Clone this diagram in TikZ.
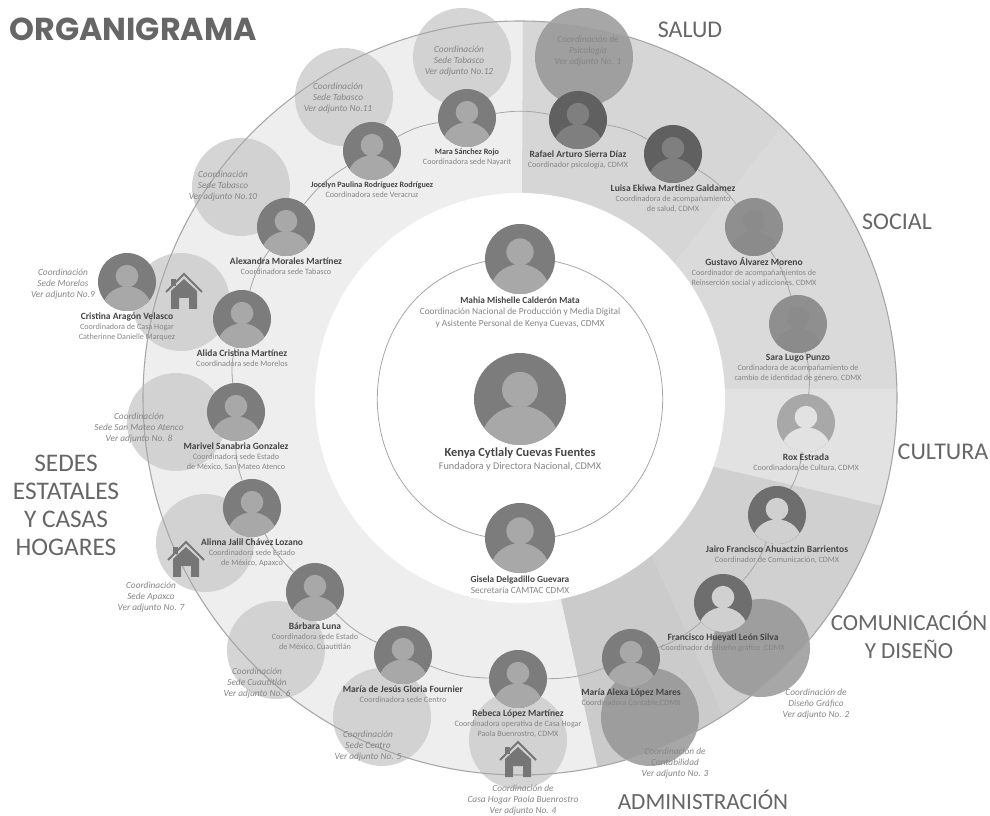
\documentclass[tikz,border=0pt]{standalone}
\usepackage{fontspec}
\setmainfont{Carlito}
\newfontfamily\titlefont{Poppins}
\usetikzlibrary{positioning}
\definecolor{ringgray}{HTML}{A6A6A6}
\definecolor{sedesfill}{HTML}{EEEEEE}
\definecolor{saludfill}{HTML}{D6D6D6}
\definecolor{socialfill}{HTML}{DADADA}
\definecolor{culturafill}{HTML}{E2E2E2}
\definecolor{comfill}{HTML}{D0D0D0}
\definecolor{adminfill}{HTML}{CBCBCB}
\definecolor{avatar}{HTML}{7C7C7C}
\definecolor{avatarlight}{HTML}{A8A8A8}
\definecolor{avatardark}{HTML}{606060}
\definecolor{avatarcom}{HTML}{6E6E6E}
\definecolor{avatarmid}{HTML}{7F7F7F}
\definecolor{avatarflat}{HTML}{8F8F8F}
\definecolor{avatarflatb}{HTML}{8B8B8B}
\definecolor{textgray}{HTML}{858585}
\definecolor{namegray}{HTML}{444444}
\definecolor{labelgray}{HTML}{666666}
\tikzset{
	areatitle/.style={font=\fontsize{#1}{21}\selectfont, text=labelgray, align=center, inner sep=0pt},
	areatitle/.default={18},
	staff/.style={font=\fontsize{6.1}{7.6}\selectfont, text=textgray, align=center, inner sep=0.6pt},
	staffmid/.style={staff, font=\fontsize{7}{8.6}\selectfont},
	staffbig/.style={staff, font=\fontsize{7.7}{10}\selectfont},
	coordtext/.style={font=\fontsize{7}{8.5}\selectfont\itshape, text=textgray, align=center, inner sep=0pt},
	coordcircle/.style={circle, inner sep=0pt, minimum size=73.5pt, fill=#1, opacity=0.82},
	coordcircle/.default={black!20},
	ringline/.style={draw=ringgray, line width=0.6pt},
	house/.pic={
		\draw[avatar!95!black, line width=1.5pt] (-18,0) -- (0,-18) -- (18,0);
		\fill[avatar!95!black] (-13,-13) rectangle (-8,-6);
		\fill[avatar!95!black] (0,-13) -- (13,-1) -- (13,17) -- (5,17) -- (5,6) -- (-5,6) -- (-5,17) -- (-13,17) -- (-13,-1) -- cycle;
	}
}
\newcommand{\nm}[1]{{\fontsize{7.15}{7.6}\selectfont\bfseries\color{namegray}#1}}
\newcommand{\nmsmall}[1]{{\bfseries\color{namegray}#1}}
\newcommand{\nmbig}[1]{{\fontsize{9.3}{10}\selectfont\bfseries\color{namegray}#1}}
\begin{document}
\begin{tikzpicture}[x=0.75pt, y=-0.75pt]
	\useasboundingbox (0,0) rectangle (990,816);
	\def\cx{520}
	\def\cy{398}
	% band and its areas
	\fill[sedesfill] (\cx,\cy) circle(377);
	\begin{scope}
		\clip (\cx,\cy) circle(377);
		\fill[saludfill] (521,398) -- (523,0) -- (882,0) -- (640,307) -- cycle;
		\fill[socialfill] (640,307) -- (882,0) -- (990,0) -- (990,389) -- (650,389) -- cycle;
		\fill[culturafill] (650,389) -- (990,389) -- (990,531) -- (650,452) -- cycle;
		\fill[comfill] (650,452) -- (990,531) -- (990,816) -- (768,816) -- (610,460) -- cycle;
		\fill[adminfill] (610,460) -- (768,816) -- (608,816) -- (544,520) -- cycle;
	\end{scope}
	\fill[white] (\cx,\cy) circle(205);
	% inner ring
	\coordinate (ringtop) at (520,258);
	\coordinate (ringbottom) at (520,540);
	\draw[ringline] (ringtop) to[out=0, in=0, looseness=1.73] (ringbottom);
	\draw[ringline] (ringtop) to[out=180, in=180, looseness=1.73] (ringbottom);
	% coordination circles
	\foreach \n/\x/\y/\c in {cone/584/57/black!42, ctwo/761/648/black!42, cthree/650/717/black!42, cfour/518/740/black!20, cfive/382/717/black!20, csix/276/650/black!20, cseven/205/543/black!20, ceight/176/422/black!20, cnine/181/302/black!20, cten/241/187/black!20, celeven/344/97/black!20, ctwelve/462/57/black!20}
		\node[coordcircle=\c] (\n) at (\x,\y) {};
	\draw[ringgray, line width=0.8pt] (\cx,\cy) circle(377);
	% people
	\foreach \n/\x/\y/\r/\bg/\fg in {
		kenya/520/399/46/avatar/avatarlight, mahia/520/259/35/avatar/avatarlight, gisela/520/538/35/avatar/avatarlight,
		mara/467/118/29/avatar/avatarlight, jocelyn/372/151/29/avatar/avatarlight, alexandra/286/227/29/avatar/avatarlight,
		cristina/127/282/29/avatar/avatarlight, alida/242/319/29/avatar/avatarlight, marivel/236/412/29/avatar/avatarlight,
		alinna/252/508/29/avatar/avatarlight, barbara/315/592/29/avatar/avatarlight, mariajesus/403/655/29/avatar/avatarlight,
		rebeca/518/679/29/avatar/avatarlight, mariaalexa/631/658/29/avatar/avatarlight,
		francisco/723/603/29/avatarcom/comfill, jairo/777/515/29/avatarcom/comfill, rox/806/423/29/avatarlight/culturafill,
		sara/798/324/29/avatarflat/avatarflatb, gustavo/754/227/29/avatarflat/avatarflatb,
		luisa/673/154/29/avatardark/avatarmid, rafael/578/120/29/avatardark/avatarmid}{
		\node[circle, fill=\bg, inner sep=0pt, minimum size=1.5pt*\r] (\n) at (\x,\y) {};
		\begin{scope}
			\clip (\x,\y) circle(\r);
			\fill[\fg] (\x,\y-0.2*\r) circle(0.39*\r);
			\fill[\fg] (\x,\y+0.95*\r) ellipse[x radius=0.85*\r, y radius=0.8*\r];
		\end{scope}
	}
	% ring between the people
	\foreach \a/\b in {rebeca/mariajesus, mariajesus/barbara, barbara/alinna, alinna/marivel, marivel/alida, alida/alexandra, alexandra/jocelyn, jocelyn/mara, mara/rafael, rafael/luisa, luisa/gustavo, gustavo/sara, sara/rox, rox/jairo, jairo/francisco, francisco/mariaalexa, mariaalexa/rebeca}
		\draw[ringline] (\a) to[bend left=10] (\b);
	% houses
	\pic at (184,292) {house};
	\pic at (186,560) {house};
	\pic at (518,760) {house};
	% texts of the people
	\node[staffbig, below=1pt of kenya] (kenyatext) {\nmbig{Kenya Cytlaly Cuevas Fuentes}\\Fundadora y Directora Nacional, CDMX};
	\node[staffmid, below=1pt of mahia] (mahiatext) {\nmsmall{Mahia Mishelle Calderón Mata}\\Coordinación Nacional de Producción y Media Digital\\y Asistente Personal de Kenya Cuevas, CDMX};
	\node[staffmid, below=1pt of gisela] (giselatext) {\nmsmall{Gisela Delgadillo Guevara}\\Secretaría CAMTAC CDMX};
	\node[staff, below=0pt of mara] (maratext) {\nmsmall{Mara Sánchez Rojo}\\Coordinadora sede Nayarit};
	\node[staff, below=0pt of jocelyn] (jocelyntext) {\nmsmall{Jocelyn Paulina Rodríguez Rodríguez}\\Coordinadora sede Veracruz};
	\node[staff, below=0pt of alexandra] (alexandratext) {\nm{Alexandra Morales Martínez}\\Coordinadora sede Tabasco};
	\node[staff, below=0pt of cristina] (cristinatext) {\nm{Cristina Aragón Velasco}\\Coordinadora de Casa Hogar\\Catherinne Danielle Marquez};
	\node[staff, below=0pt of alida] (alidatext) {\nm{Alida Cristina Martínez}\\Coordinadora sede Morelos};
	\node[staff, below=0pt of marivel] (mariveltext) {\nm{Marivel Sanabria Gonzalez}\\Coordinadora sede Estado\\de México, San Mateo Atenco};
	\node[staff, below=0pt of alinna] (alinnatext) {\nm{Alinna Jalil Chávez Lozano}\\Coordinadora sede Estado\\de México, Apaxco};
	\node[staff, below=0pt of barbara] (barbaratext) {\nm{Bárbara Luna}\\Coordinadora sede Estado\\de México, Cuautitlán};
	\node[staff, below=0pt of mariajesus] (mariajesustext) {\nm{María de Jesús Gloria Fournier}\\Coordinadora sede Centro};
	\node[staff, below=0pt of rebeca] (rebecatext) {\nm{Rebeca López Martínez}\\Coordinadora operativa de Casa Hogar\\Paola Buenrostro, CDMX};
	\node[staff, below=0pt of mariaalexa] (mariaalexatext) {\nm{María Alexa López Mares}\\Coordinadora Contable,CDMX};
	\node[staff, below=0pt of francisco] (franciscotext) {\nm{Francisco Hueyatl León Silva}\\Coordinador de diseño gráfico ,CDMX};
	\node[staff, below=0pt of jairo] (jairotext) {\nm{Jairo Francisco Ahuactzin Barrientos}\\Coordinador de Comunicación, CDMX};
	\node[staff, below=0pt of rox] (roxtext) {\nm{Rox Estrada}\\Coordinadora de Cultura, CDMX};
	\node[staff, below=0pt of sara] (saratext) {\nm{Sara Lugo Punzo}\\Cordinadora de acompañamiento de\\cambio de identidad de género, CDMX};
	\node[staff, below=0pt of gustavo] (gustavotext) {\nm{Gustavo Álvarez Moreno}\\Coordinador de acompañamientos de\\Reinserción social y adicciones, CDMX};
	\node[staff, below=0pt of luisa] (luisatext) {\nm{Luisa Ekiwa Martinez Galdamez}\\Coordinadora de acompañamiento\\de salud, CDMX};
	\node[staff, below=0pt of rafael] (rafaeltext) {\nm{Rafael Arturo Sierra Díaz}\\Coordinador psicología, CDMX};
	% texts of the coordination circles
	\node[coordtext] (conetext) at (588,51) {Coordinación de\\Psicología\\Ver adjunto No. 1};
	\node[coordtext] (ctwotext) at (816,704) {Coordinación de\\Diseño Gráfico\\Ver adjunto No. 2};
	\node[coordtext] (cthreetext) at (675,763) {Coordinación de\\Contabilidad\\Ver adjunto No. 3};
	\node[coordtext] (cfourtext) at (523,800) {Coordinación de\\Casa Hogar Paola Buenrostro\\Ver adjunto No. 4};
	\node[coordtext] (cfivetext) at (368,746) {Coordinación\\Sede Centro\\Ver adjunto No. 5};
	\node[coordtext] (csixtext) at (257,683) {Coordinación\\Sede Cuautitlán\\Ver adjunto No. 6};
	\node[coordtext] (cseventext) at (151,597) {Coordinación\\Sede Apaxco\\Ver adjunto No. 7};
	\node[coordtext] (ceighttext) at (139,428) {Coordinación\\Sede San Mateo Atenco\\Ver adjunto No. 8};
	\node[coordtext] (cninetext) at (63,284) {Coordinación\\Sede Morelos\\Ver adjunto No.9};
	\node[coordtext] (ctentext) at (223,186) {Coordinación\\Sede Tabasco\\Ver adjunto No.10};
	\node[coordtext] (celeventext) at (338,98) {Coordinación\\Sede Tabasco\\Ver adjunto No.11};
	\node[coordtext] (ctwelvetext) at (459,61) {Coordinación\\Sede Tabasco\\Ver adjunto No.12};
	% area titles
	\node[font=\titlefont\bfseries\fontsize{23.8}{26}\selectfont, text=labelgray, inner sep=0pt] (orgtitle) at (133,29) {ORGANIGRAMA};
	\node[areatitle] (salud) at (690,30) {SALUD};
	\node[areatitle] (social) at (897,222) {SOCIAL};
	\node[areatitle] (cultura) at (943,452) {CULTURA};
	\node[areatitle=17.3] (comunicacion) at (909,635) {COMUNICACIÓN\\Y DISEÑO};
	\node[areatitle=17.4] (administracion) at (703,800) {ADMINISTRACIÓN};
	\node[areatitle=19] (sedes) at (66,505) {SEDES\\ESTATALES\\Y CASAS\\HOGARES};
\end{tikzpicture}
\end{document}
